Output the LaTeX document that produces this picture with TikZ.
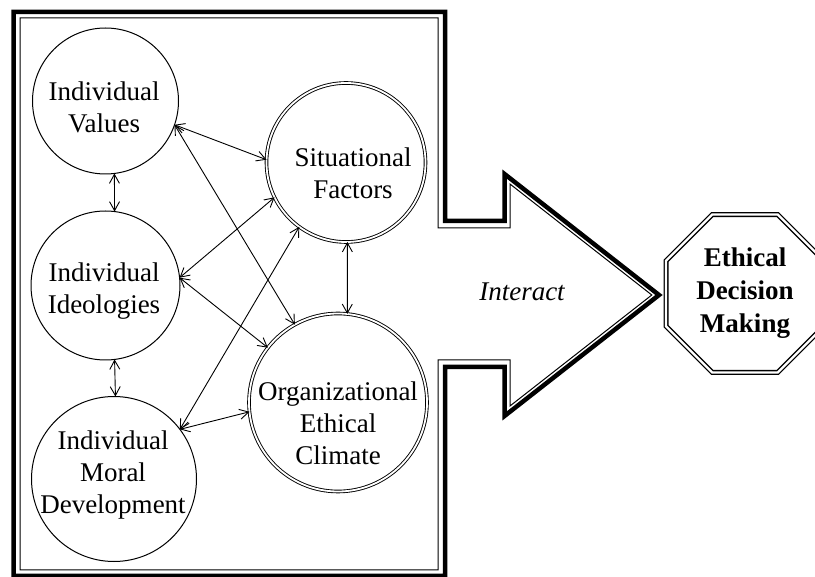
\documentclass[tikz,border=0pt]{standalone}
\usepackage{fontspec}
\setmainfont{Liberation Serif}
\usetikzlibrary{shapes.geometric,arrows.meta}
\begin{document}
\begin{tikzpicture}[x=1pt,y=-1pt,
  every node/.style={inner sep=0pt,outer sep=0pt},
  txt/.style={font=\fontsize{27}{32}\selectfont, align=center},
  singlecirc/.style={circle, draw, line width=1pt},
  doublecirc/.style={circle, draw, line width=0.9pt, double, double distance=1.8pt},
  link/.style={line width=0.9pt, {Straight Barb[length=9pt,width=10pt]}-{Straight Barb[length=9pt,width=10pt]}},
  frameline/.style={line width=4.5pt, line join=miter, miter limit=10},
  innerframe/.style={line width=1pt, line join=miter, miter limit=10},
  octa/.style={regular polygon, regular polygon sides=8, draw, line width=1.3pt, double, double distance=2.4pt, minimum size=171pt, font=\fontsize{27}{33}\selectfont\bfseries, align=center}
]
\useasboundingbox (0,0) rectangle (815,577);
\fill[white] (0,0) rectangle (815,577);
\clip (0,0) rectangle (815,577);

% frame with arrow
\draw[frameline] (13.5,12) -- (445,12) -- (445,221) -- (504.5,221) -- (504.5,174) -- (659,295) -- (504.5,416) -- (504.5,367) -- (445,367) -- (445,576) -- (13.5,576) -- cycle;
\draw[innerframe] (20,18) -- (438,18) -- (438,228) -- (510,228) -- (510,184) -- (651.8,295) -- (510,406) -- (510,360) -- (438,360) -- (438,570) -- (20,570) -- cycle;

% circles
\node[singlecirc, minimum size=146pt] (v) at (105.5,101) {};
\node[txt] (vt) at (104,107) {Individual\\Values};
\node[singlecirc, minimum size=149pt] (i) at (105.5,285.5) {};
\node[txt] (it) at (104,291) {Individual\\Ideologies};
\node[singlecirc, minimum size=165pt] (m) at (114,479) {};
\node[txt] (mt) at (113,475) {Individual\\Moral\\Development};
\node[doublecirc, minimum size=159pt] (s) at (346,162.5) {};
\node[txt] (st) at (353,173) {Situational\\Factors};
\node[doublecirc, minimum size=178pt] (o) at (338,402.5) {};
\node[txt] (ot) at (338,423) {Organizational\\Ethical\\Climate};

\node[octa] (e) at (745,293.5) {Ethical\\Decision\\Making};
\node[font=\fontsize{27}{32}\selectfont\itshape] (ia) at (522,292) {Interact};

% connectors
\draw[link] (v.-83) -- (i.83);
\draw[link] (i.-83) -- (m.89);
\draw[link] (s.-89) -- (o.84);
\draw[link] (v.-19) -- (s.178);
\draw[link] (v.-19) -- (o.119);
\draw[link] (i.6) -- (s.206);
\draw[link] (i.6) -- (o.142);
\draw[link] (m.37) -- (s.-126);
\draw[link] (m.37) -- (o.186);
\end{tikzpicture}
\end{document}
